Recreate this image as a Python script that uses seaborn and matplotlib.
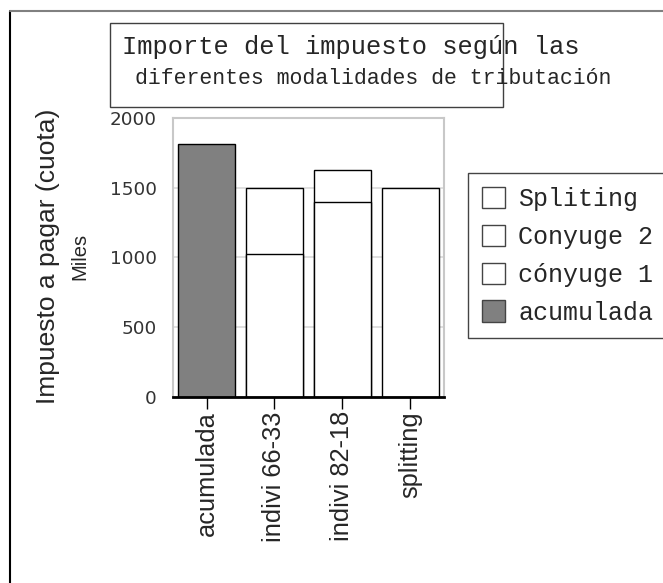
import numpy as np
import pandas as pd
import matplotlib
matplotlib.use("Agg")
import matplotlib.pyplot as plt
from matplotlib.patches import Patch, Rectangle
from matplotlib.lines import Line2D
import seaborn as sns

# data (miles)
categories = ["acumulada", "indivi 66-33", "indivi 82-18", "splitting"]
acumulada = [1815, 0, 0, 0]
conyuge1 = [0, 1025, 1400, 0]
conyuge2 = [0, 475, 225, 0]
spliting = [0, 0, 0, 1500]
yticks = [0, 500, 1000, 1500, 2000]
legend_labels = ["Spliting", "Conyuge 2", "cónyuge 1", "acumulada"]

df = pd.DataFrame({"cat": categories, "acumulada": acumulada, "c1": conyuge1,
                   "c2": conyuge2, "split": spliting})
df["total"] = df[["acumulada", "c1", "c2", "split"]].sum(axis=1)

sns.set_style("white")
mono = ["Liberation Mono", "DejaVu Sans Mono"]
sans = ["Liberation Sans", "DejaVu Sans"]

fig = plt.figure(figsize=(6.63, 5.83), dpi=100)
W, H = 663, 583
ax = fig.add_axes([172.7 / W, 1 - 396.5 / H, (444 - 172.7) / W, (396.5 - 118) / H])

pal = {c: ("#808080" if c == "acumulada" else "white") for c in categories}
# full stack height first, then lower segment on top of it
sns.barplot(data=df, x="cat", y="total", hue="cat", palette=pal, order=categories,
            legend=False, saturation=1, width=0.84, edgecolor="black", linewidth=1, ax=ax)
low = df[df["c1"] > 0]
sns.barplot(data=low, x="cat", y="c1", order=categories, color="white", saturation=1,
            width=0.84, edgecolor="black", linewidth=1, ax=ax)

ax.set_xlim(-0.5, 3.5)
ax.set_ylim(0, 2000)
ax.set_yticks(yticks)
ax.set_yticklabels([str(v) for v in yticks], fontsize=13.2, color="#333333",
                   family=["DejaVu Sans"])
ax.set_xticks(range(len(categories)))
ax.set_xticklabels(categories, rotation=90, fontsize=18.3, family=sans)
ax.tick_params(axis="y", length=0, pad=11.5)
ax.tick_params(axis="x", length=8.6, width=1, color="black", pad=2, direction="out", bottom=True)
ax.set_xlabel("")
ax.set_ylabel("")
ax.yaxis.grid(True, color="#d9d9d9", linewidth=1.2)
ax.set_axisbelow(True)
for s in ["left", "top", "right"]:
    ax.spines[s].set_color("#c8c8c8")
    ax.spines[s].set_linewidth(1.5)
ax.spines["bottom"].set_color("black")
ax.spines["bottom"].set_linewidth(2)

# axis titles
fig.text(48 / W, 1 - 256 / H, "Impuesto a pagar (cuota)", rotation=90, ha="center",
         va="center", fontsize=19, family=sans)
fig.text(80 / W, 1 - 256 / H, "Miles", rotation=90, ha="center", va="center",
         fontsize=14.5, family=sans)

# title box
fig.patches.append(Rectangle((110 / W, 1 - 107 / H), (503 - 110) / W, 84 / H,
                             transform=fig.transFigure, fill=False,
                             edgecolor="#404040", linewidth=1))
fig.text(121.7 / W, 1 - 47 / H, "Importe del impuesto según las", ha="left",
         va="center", fontsize=18.4, family=mono)
fig.text(135 / W, 1 - 78 / H, "diferentes modalidades de tributación", ha="left",
         va="center", fontsize=15.5, family=mono)

# outer frame
fig.add_artist(Line2D([10 / W, 10 / W], [0, 1 - 11 / H], transform=fig.transFigure,
                      color="black", linewidth=1.5))
fig.add_artist(Line2D([10 / W, 1], [1 - 11 / H, 1 - 11 / H], transform=fig.transFigure,
                      color="#808080", linewidth=1.5))

# legend
handles = [Patch(facecolor="white", edgecolor="#444444", linewidth=1),
           Patch(facecolor="white", edgecolor="#444444", linewidth=1),
           Patch(facecolor="white", edgecolor="#444444", linewidth=1),
           Patch(facecolor="#808080", edgecolor="#444444", linewidth=1)]
leg = fig.legend(handles, legend_labels, loc="upper left",
                 bbox_to_anchor=(468 / W, 1 - 173 / H), bbox_transform=fig.transFigure,
                 prop={"family": mono, "size": 18}, frameon=True, fancybox=False,
                 framealpha=1, edgecolor="#444444", handlelength=0.92, handleheight=0.92,
                 handletextpad=0.54, borderpad=0.55, labelspacing=0.55, borderaxespad=0)
leg.get_frame().set_linewidth(1)

fig.savefig("out.png", dpi=100)
